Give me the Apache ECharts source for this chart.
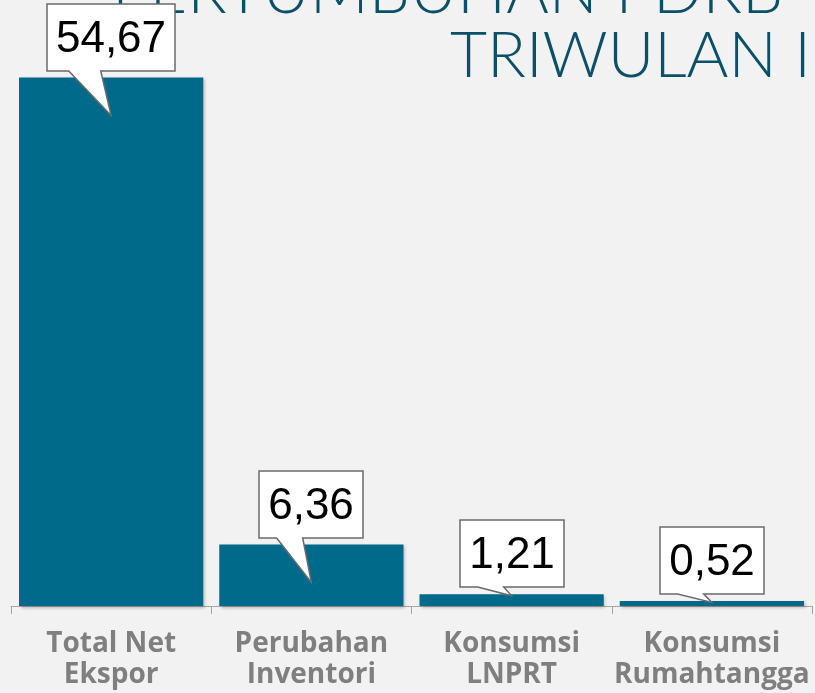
<!DOCTYPE html>
<html>
<head>
<meta charset="utf-8">
<script src="https://cdn.jsdelivr.net/npm/echarts@6/dist/echarts.min.js"></script>
<style>
  html, body { margin: 0; padding: 0; background: #f2f2f2; }
  #chart { width: 815px; height: 693px; }
</style>
</head>
<body>
<div id="chart"></div>
<script>
// data
var categories = ['Total Net\nEkspor', 'Perubahan\nInventori', 'Konsumsi\nLNPRT', 'Konsumsi\nRumahtangga'];
var values = [54.67, 6.36, 1.21, 0.52];
var titleLines = ['PERTUMBUHAN PDRB', 'TRIWULAN I'];

var chart = echarts.init(document.getElementById('chart'));

// ukur lebar teks label untuk kotak callout
var ctx = document.createElement('canvas').getContext('2d');
var labelFont = '44px "Liberation Sans", Arial, sans-serif';
ctx.font = labelFont;

function fmt(v) {
    return v.toFixed(2).replace('.', ',');
}

function renderCallout(params, api) {
    var i = api.value(0), v = api.value(1);
    var top = api.coord([i, v]);
    var base = api.coord([i, 0]);
    var txt = fmt(v);
    var w = Math.round(ctx.measureText(txt).width + 18);
    var h = 67;
    var cx = top[0], ty = top[1];
    var x0 = Math.round(cx - w / 2), x1 = x0 + w;
    var y1 = Math.round(ty - 7), y0 = y1 - h;
    var tipY = (base[1] - ty) > 40 ? ty + 38 : ty + 1.5;
    var pts = [
        [x0, y0], [x1, y0], [x1, y1],
        [x0 + 0.42 * w, y1], [cx, tipY], [x0 + 0.17 * w, y1],
        [x0, y1]
    ];
    return {
        type: 'group',
        children: [{
            type: 'polygon',
            shape: { points: pts },
            style: { fill: '#ffffff', stroke: '#6b6b6b', lineWidth: 1.5 }
        }, {
            type: 'text',
            style: {
                text: txt,
                x: (x0 + x1) / 2,
                y: y0 + h / 2 + 2,
                align: 'center',
                verticalAlign: 'middle',
                font: labelFont,
                fill: '#000000'
            }
        }]
    };
}

var option = {
    backgroundColor: '#f2f2f2',
    animation: false,
    graphic: [{
        type: 'text',
        style: {
            text: titleLines[0],
            x: 112, y: -8,
            verticalAlign: 'middle',
            font: '300 65px "Lato", "Open Sans", sans-serif',
            fill: '#0b5069'
        }
    }, {
        type: 'text',
        style: {
            text: titleLines[1],
            x: 450, y: 56,
            verticalAlign: 'middle',
            font: '300 64px "Lato", "Open Sans", sans-serif',
            fill: '#0b5069'
        }
    }],
    grid: {
        left: 11,
        right: 3,
        top: 26,
        bottom: 87,
        containLabel: false,
        outerBoundsMode: 'none'
    },
    xAxis: {
        type: 'category',
        data: categories,
        axisLine: { lineStyle: { color: '#a6a6a6', width: 1 } },
        axisTick: { show: true, interval: 0, length: 8, lineStyle: { color: '#a6a6a6', width: 1 } },
        axisLabel: {
            interval: 0,
            margin: 23,
            color: '#7f7f7f',
            fontFamily: '"Open Sans", sans-serif',
            fontWeight: 'bold',
            fontSize: 28,
            lineHeight: 31
        }
    },
    yAxis: {
        type: 'value',
        min: 0,
        max: 60,
        show: false,
        splitLine: { show: false }
    },
    series: [{
        type: 'bar',
        data: values,
        barCategoryGap: '8%',
        itemStyle: {
            color: '#006a8b',
            shadowColor: 'rgba(0,0,0,0.25)',
            shadowBlur: 3,
            shadowOffsetX: 1.5,
            shadowOffsetY: 1.5
        }
    }, {
        type: 'custom',
        renderItem: renderCallout,
        data: values.map(function (v, i) { return [i, v]; }),
        z: 10
    }]
};

chart.setOption(option);
</script>
</body>
</html>
